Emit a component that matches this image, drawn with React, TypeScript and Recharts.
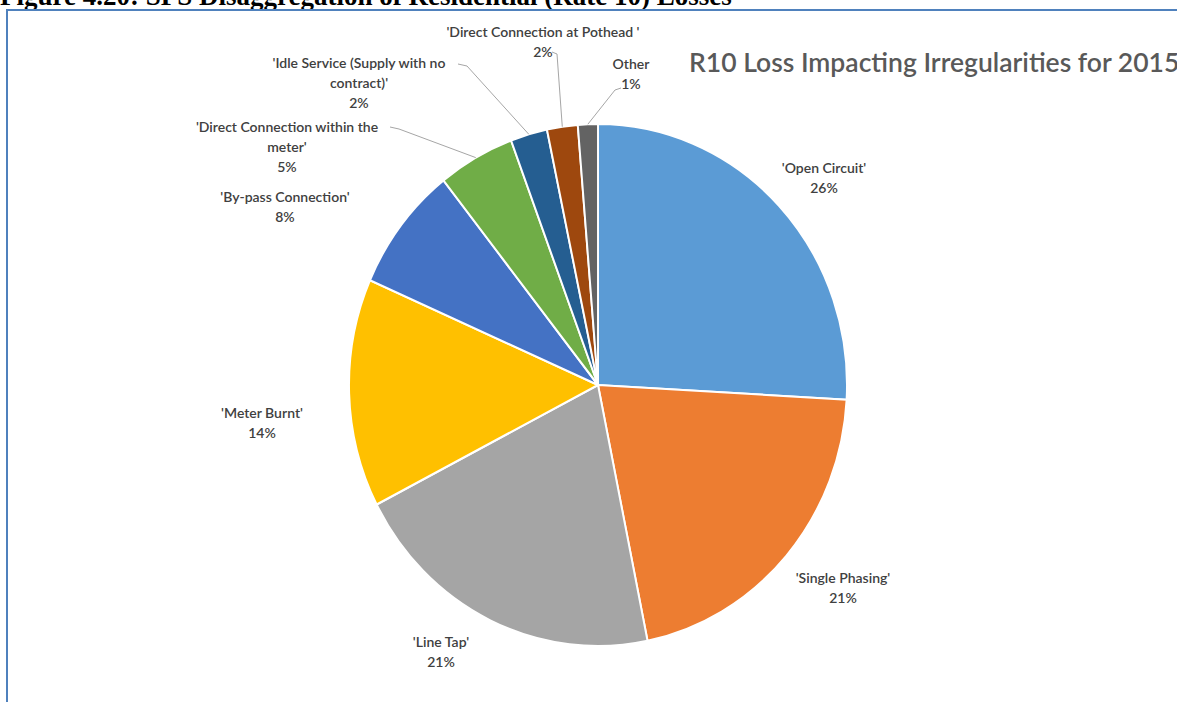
import React from 'react';
import { PieChart, Pie, Cell } from 'recharts';

const categories = [
  "'Open Circuit'",
  "'Single Phasing'",
  "'Line Tap'",
  "'Meter Burnt'",
  "'By-pass Connection'",
  "'Direct Connection within the meter'",
  "'Idle Service (Supply with no contract)'",
  "'Direct Connection at Pothead '",
  'Other',
];
const values = [26, 21, 20.7, 14.2, 7.8, 5, 2.4, 2, 1.3];
const colors = ['#5B9BD5', '#ED7D31', '#A5A5A5', '#FFC000', '#4472C4', '#70AD47', '#255E91', '#9E480E', '#636363'];

const labelTextLines: string[][] = [
  ["'Open Circuit'"],
  ["'Single Phasing'"],
  ["'Line Tap'"],
  ["'Meter Burnt'"],
  ["'By-pass Connection'"],
  ["'Direct Connection within the", "meter'"],
  ["'Idle Service (Supply with no", "contract)'"],
  ["'Direct Connection at Pothead '"],
  ['Other'],
];
// label text anchor (center x, first line y) and optional leader elbow
const labelPos: { x: number; y: number; elbow?: number[][] }[] = [
  { x: 824, y: 167 },
  { x: 843, y: 577 },
  { x: 441, y: 641 },
  { x: 262, y: 412 },
  { x: 285, y: 196 },
  { x: 287, y: 126, elbow: [[390, 127], [399, 129]] },
  { x: 359, y: 62, elbow: [[458, 64], [467, 66]] },
  { x: 543, y: 31, elbow: [[552, 52], [557, 54]] },
  { x: 631, y: 63, elbow: [[621, 88], [615, 90]] },
];

const data = categories.map((name, i) => ({ name, value: values[i] }));

const CX = 598;
const CY = 385;
const R = 255;
const RX = 249;
const RY = 261;

const LABEL_FONT = 'Lato, "Open Sans", sans-serif';

const renderLabel = (props: any) => {
  const { cx, cy, midAngle, percent, index } = props;
  const pos = labelPos[index];
  const lines = labelTextLines[index];
  const pct = `${Math.round(percent * 100)}%`;
  const RAD = Math.PI / 180;
  const ex = cx + RX * Math.cos(-midAngle * RAD);
  const ey = cy + RY * Math.sin(-midAngle * RAD);
  const all = [...lines, pct];
  return (
    <g key={`lbl-${index}`}>
      {pos.elbow && (
        <polyline
          points={`${pos.elbow[0][0]},${pos.elbow[0][1]} ${pos.elbow[1][0]},${pos.elbow[1][1]} ${ex},${ey}`}
          fill="none"
          stroke="#A6A6A6"
          strokeWidth={1}
        />
      )}
      {all.map((t, k) => (
        <text
          key={k}
          x={pos.x}
          y={pos.y + k * 20}
          textAnchor="middle"
          dominantBaseline="central"
          fontFamily={LABEL_FONT}
          fontSize={14}
          fontWeight={600}
          fill="#404040"
        >
          {t}
        </text>
      ))}
    </g>
  );
};

export default function App() {
  return (
    <div style={{ position: 'absolute', left: 0, top: 0, width: 1177, height: 702, overflow: 'hidden', background: '#fff' }}>
      <style>{`
        .recharts-pie-sector .recharts-sector {
          transform-box: view-box;
          transform-origin: ${CX}px ${CY}px;
          transform: scale(${RX / R}, ${RY / R});
        }
      `}</style>
      <div
        style={{
          position: 'absolute',
          left: 0,
          top: -19,
          fontFamily: '"Liberation Serif", "Times New Roman", serif',
          fontWeight: 700,
          fontSize: 27,
          whiteSpace: 'nowrap',
          color: '#000',
        }}
      >
        Figure 4.20: SPS Disaggregation of Residential (Rate 10) Losses
      </div>
      <div
        style={{
          position: 'absolute',
          left: 6,
          top: 9,
          width: 1200,
          height: 720,
          borderLeft: '2px solid #4F81BD',
          borderTop: '2px solid #4F81BD',
        }}
      />
      <div style={{ position: 'absolute', left: 0, top: 0 }}>
        <PieChart width={1177} height={702} margin={{ top: 0, right: 0, bottom: 0, left: 0 }}>
          <text
            x={689}
            y={62}
            dominantBaseline="central"
            fontFamily={LABEL_FONT}
            fontSize={26.5}
            fontWeight={600}
            fill="#595959"
          >
            R10 Loss Impacting Irregularities for 2015
          </text>
          <Pie
            data={data}
            dataKey="value"
            nameKey="name"
            cx={CX}
            cy={CY}
            outerRadius={R}
            startAngle={90}
            endAngle={-270}
            stroke="#ffffff"
            strokeWidth={2}
            isAnimationActive={false}
            label={renderLabel}
            labelLine={false}
          >
            {data.map((d, i) => (
              <Cell key={d.name} fill={colors[i]} />
            ))}
          </Pie>
        </PieChart>
      </div>
    </div>
  );
}
